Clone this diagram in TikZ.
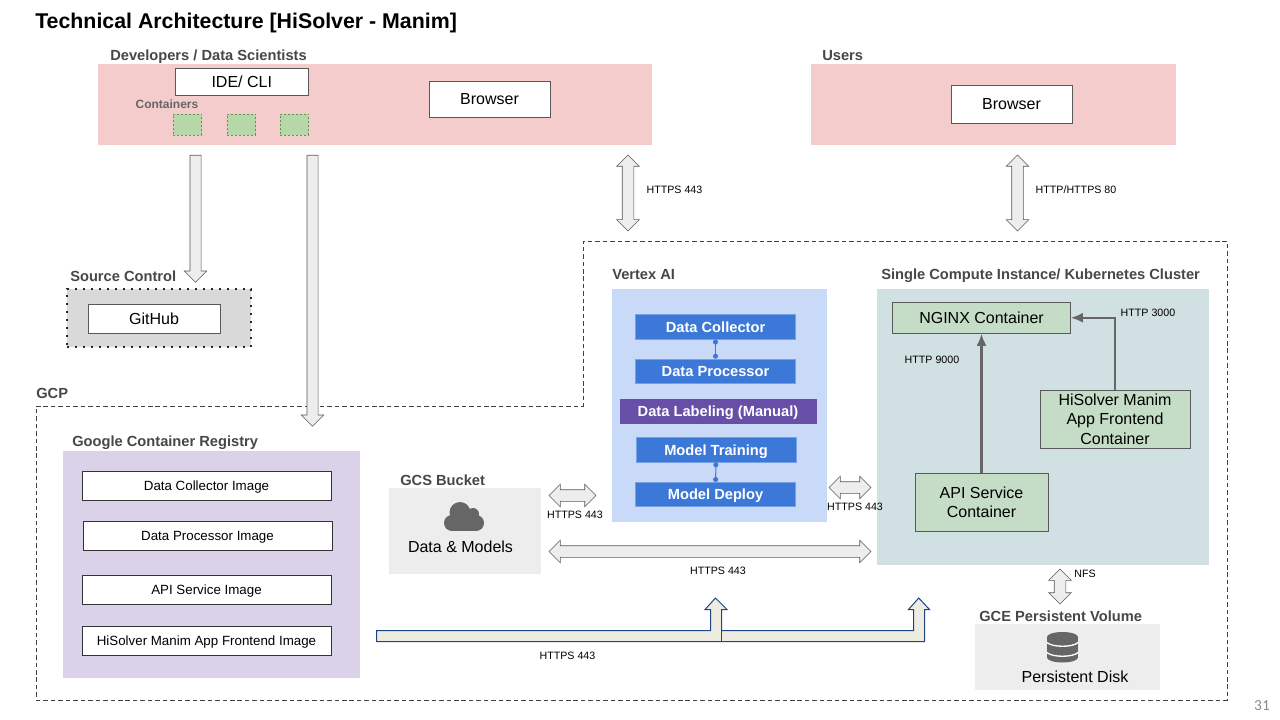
\documentclass[tikz,border=0pt]{standalone}
\usepackage{fontspec}
\setmainfont{Liberation Sans}
\newfontfamily\pagefont{Carlito}
\usetikzlibrary{arrows.meta, shapes.arrows}

\definecolor{pinkbg}{HTML}{F4CCCC}
\definecolor{greenbox}{HTML}{B6D7A8}
\definecolor{greenline}{HTML}{6A8F5A}
\definecolor{mintbox}{HTML}{C5DDC6}
\definecolor{vertexbg}{HTML}{C9DAF8}
\definecolor{clusterbg}{HTML}{D0E0E3}
\definecolor{registrybg}{HTML}{D9D2E9}
\definecolor{stepblue}{HTML}{3C78D8}
\definecolor{steppurple}{HTML}{674EA7}
\definecolor{creamfill}{HTML}{EEECE1}
\definecolor{creamline}{HTML}{1C4587}

\def\U{0.75pt}		% One pixel of the reference

\tikzset{
	heading/.style = {anchor = west, inner sep = 0, text = black!72, text height = 8pt, text depth = 0pt, font = \fontsize{11}{13}\selectfont\bfseries},
	small/.style = {inner sep = 0, text height = 5.8pt, text depth = 0pt, font = \fontsize{8}{10}\selectfont},
	plainbox/.style = {draw = black!65, fill = white, inner sep = 0, font = \fontsize{12}{14.4}\selectfont},
	imagebox/.style = {plainbox, draw = black!80, minimum width = 249 * \U, minimum height = 29 * \U, text height = 7.2pt, text depth = 0pt, font = \fontsize{10}{12}\selectfont},
	greenbox/.style = {draw = black!65, fill = mintbox, inner sep = 0, align = center, font = \fontsize{12}{14.4}\selectfont},
	container/.style = {draw = greenline, line width = 0.6pt, dash pattern = on 1.5pt off 1.5pt, fill = greenbox, minimum width = 28.5 * \U, minimum height = 21 * \U, inner sep = 0},
	stepbox/.style = {fill = stepblue, draw = stepblue!70!white, text = white, inner sep = 0, minimum width = 160 * \U, minimum height = 24.5 * \U, text height = 7.9pt, text depth = 0pt, font = \fontsize{11}{13}\selectfont\bfseries},
	area/.style = {inner sep = 0, outer sep = 0},
	blockboth/.style = {double arrow, draw = black!65, fill = black!7, inner xsep = 0, inner ysep = 5.5 * \U, minimum width = 22 * \U, double arrow head extend = 5.5 * \U},
	blockone/.style = {single arrow, draw = black!65, fill = black!7, inner xsep = 0, inner ysep = 5.25 * \U, minimum width = 22 * \U, single arrow head extend = 5.75 * \U},
	link/.style = {->, draw = black!60, line width = 1.75pt},
	steplink/.style = {{Circle[length = 3.75pt]}-{Circle[length = 3.75pt]}, draw = stepblue, line width = 0.75pt}
}

\begin{document}
\begin{tikzpicture}[> = {Latex[length = 9pt, width = 7.5pt]}, x = 0.75pt, y = -0.75pt]

\useasboundingbox (0, 0) rectangle (1280, 720);

% Title

\node (title) [anchor = west, inner sep = 0, text height = 11.5pt, text depth = 0pt, font = \fontsize{16}{19}\selectfont\bfseries] at (35, 20.5) {Technical Architecture [HiSolver - Manim]};
\node (page) [inner sep = 0, text = black!45, font = \pagefont\fontsize{11.5}{13}\selectfont] at (1262, 706) {31};

% Developers

\node (devhead) [heading] at (110, 55) {Developers / Data Scientists};
\node (devarea) [area, fill = pinkbg, minimum width = 554 * \U, minimum height = 81 * \U] at (375, 104.5) {};
\node (ide) [plainbox, minimum width = 133.5 * \U, minimum height = 27 * \U] at (241.75, 81.5) {IDE/ CLI};
\node (devbrowser) [plainbox, minimum width = 121 * \U, minimum height = 36 * \U] at (489.5, 99) {Browser};
\node (contlabel) [inner sep = 0, text = black!60, font = \fontsize{9}{11}\selectfont\bfseries] at (167, 104.5) {Containers};
\node (conta) [container] at (187.25, 124.5) {};
\node (contb) [container] at (241.25, 124.5) {};
\node (contc) [container] at (294.25, 124.5) {};

% Users

\node (userhead) [heading] at (822, 55) {Users};
\node (userarea) [area, fill = pinkbg, minimum width = 365 * \U, minimum height = 81 * \U] at (993.5, 104.5) {};
\node (userbrowser) [plainbox, minimum width = 121 * \U, minimum height = 38 * \U] at (1011.5, 104.5) {Browser};

% GCP boundary

\node (gcphead) [heading] at (36, 393) {GCP};
\draw [draw = black!75, line width = 0.6pt, dash pattern = on 3.4pt off 2.2pt] (36, 406) -- (583, 406) -- (583, 241) -- (1227, 241) -- (1227, 700) -- (36, 700) -- cycle;

% Source control

\node (srchead) [heading] at (70, 276) {Source Control};
\node (srcarea) [area, fill = black!15, draw = black!85, line width = 1.5pt, dash pattern = on 1.5pt off 4.5pt, minimum width = 184 * \U, minimum height = 58 * \U] at (159, 318) {};
\node (github) [plainbox, minimum width = 132 * \U, minimum height = 29 * \U] at (154, 318.5) {GitHub};

% Container registry

\node (reghead) [heading] at (72, 441) {Google Container Registry};
\node (regarea) [area, fill = registrybg, minimum width = 296.5 * \U, minimum height = 227 * \U] at (211.25, 564.5) {};
\node (imgcollector) [imagebox] at (206.5, 485.5) {Data Collector Image};
\node (imgprocessor) [imagebox] at (207.5, 535.5) {Data Processor Image};
\node (imgapi) [imagebox] at (206.5, 589.5) {API Service Image};
\node (imgfrontend) [imagebox] at (206.5, 640.5) {HiSolver Manim App Frontend Image};

% Bucket

\node (buckethead) [heading] at (400, 480) {GCS Bucket};
\node (bucket) [area, fill = black!7, minimum width = 152 * \U, minimum height = 86 * \U] at (465, 531) {};
\node (bucketlabel) [inner sep = 0, font = \fontsize{12}{14.4}\selectfont] at (460.5, 547) {Data \& Models};
\foreach \X/\Y/\R in {452/523/8, 460/512.5/10.5, 473/514/6, 476/523/8}
	\fill [black!60] (\X, \Y) circle (\R);
\fill [black!60] (452, 515) rectangle (476, 531);

% Vertex AI

\node (vertexhead) [heading] at (612, 274) {Vertex AI};
\node (vertex) [area, fill = vertexbg, minimum width = 215 * \U, minimum height = 233 * \U] at (719.5, 405.5) {};
\node (collector) [stepbox] at (715.5, 327) {Data Collector};
\node (processor) [stepbox] at (715.5, 371.25) {Data Processor};
\node (labeling) [stepbox, fill = steppurple, draw = steppurple, minimum width = 196 * \U] at (718, 411.5) {Data Labeling (Manual)};
\node (training) [stepbox] at (716, 449.75) {Model Training};
\node (deploy) [stepbox] at (715.5, 494.5) {Model Deploy};
\draw [steplink] (collector) -- (processor);
\draw [steplink] (training) -- (deploy);

% Cluster

\node (clusterhead) [heading] at (881, 274) {Single Compute Instance/ Kubernetes Cluster};
\node (cluster) [area, fill = clusterbg, minimum width = 332 * \U, minimum height = 276 * \U] at (1043, 427) {};
\node (nginx) [greenbox, minimum width = 178 * \U, minimum height = 31.5 * \U] at (981.5, 317.75) {NGINX Container};
\node (frontend) [greenbox, minimum width = 150 * \U, minimum height = 58.5 * \U] at (1115, 419.25) {HiSolver Manim\\App Frontend\\Container};
\node (api) [greenbox, minimum width = 133 * \U, minimum height = 58 * \U] at (981.5, 502) {API Service\\Container};
\draw [link] (api) -- (nginx);
\draw [link] (frontend.north) |- (nginx.east);
\node (http9000) [small] at (932, 360) {HTTP 9000};
\node (http3000) [small] at (1148, 313) {HTTP 3000};

% Persistent disk

\node (volhead) [heading] at (979, 616) {GCE Persistent Volume};
\node (volume) [area, fill = black!7, minimum width = 185 * \U, minimum height = 66 * \U] at (1067.5, 657) {};
\node (disklabel) [inner sep = 0, font = \fontsize{12}{14.4}\selectfont] at (1075, 677) {Persistent Disk};
\fill [black!60] (1062.5, 637) ellipse (15.5 and 5);
\fill [black!60] (1047, 637) rectangle (1078, 657.5);
\fill [black!60] (1062.5, 657.5) ellipse (15.5 and 5);
\foreach \Y in {642.5, 652.5}
	\draw [white, line width = 1pt] (1047, \Y) .. controls (1052, \Y + 5) and (1073, \Y + 5) .. (1078, \Y);

% Block arrows

\node (pushsrc) [blockone, rotate = -90, minimum height = 127 * \U] at (195.5, 216) {};
\node (pushreg) [blockone, rotate = -90, minimum height = 271 * \U] at (312.5, 288) {};
\node (devlink) [blockboth, rotate = 90, minimum height = 76 * \U] at (628, 193) {};
\node (userlink) [blockboth, rotate = 90, minimum height = 76 * \U] at (1017.5, 193) {};
\node (nfslink) [blockboth, rotate = 90, minimum height = 35 * \U] at (1060, 586.5) {};
\node (bucketvertex) [blockboth, minimum height = 47 * \U] at (572.5, 495.5) {};
\node (bucketcluster) [blockboth, minimum height = 322 * \U] at (710, 551.5) {};
\node (vertexcluster) [blockboth, minimum height = 42 * \U] at (850, 487.5) {};

% Deploy arrow

\draw [draw = creamline, fill = creamfill, line width = 0.75pt] (376.5, 630.5) -- (710.5, 630.5) -- (710.5, 609.5) -- (705, 609.5) -- (715.5, 598) -- (727, 609.5) -- (721.5, 609.5) -- (721.5, 630.5) -- (913.5, 630.5) -- (913.5, 609.5) -- (908.5, 609.5) -- (918.75, 598) -- (929.5, 609.5) -- (924.5, 609.5) -- (924.5, 641.5) -- (376.5, 641.5) -- cycle;
\draw [draw = creamline, line width = 0.75pt] (721.5, 630.5) -- (721.5, 641.5);

% Link labels

\node (devhttps) [small] at (674.5, 190) {HTTPS 443};
\node (userhttp) [small] at (1076, 190) {HTTP/HTTPS 80};
\node (buckethttps) [small] at (575, 515) {HTTPS 443};
\node (vertexhttps) [small] at (855, 507) {HTTPS 443};
\node (clusterhttps) [small] at (718, 571) {HTTPS 443};
\node (deployhttps) [small] at (567.5, 656) {HTTPS 443};
\node (nfslabel) [small] at (1085, 574) {NFS};

\end{tikzpicture}
\end{document}
